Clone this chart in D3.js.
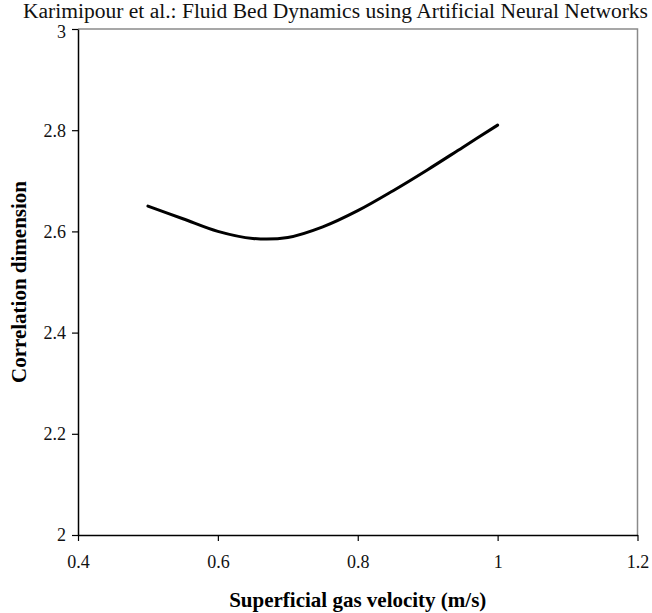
<!DOCTYPE html>
<html>
<head>
<meta charset="utf-8">
<script src="https://cdn.jsdelivr.net/npm/d3@7"></script>
<style>
  html, body { margin: 0; padding: 0; background: #fff; }
  svg { display: block; }
</style>
</head>
<body>
<svg id="chart" width="652" height="613"></svg>
<script>
// ---- data ----
const velocity = [0.50, 0.55, 0.60, 0.65, 0.70, 0.75, 0.80, 0.85, 0.90, 0.95, 1.00];
const corrDim  = [2.650, 2.625, 2.600, 2.586, 2.588, 2.609, 2.641, 2.680, 2.722, 2.766, 2.810];
const xTicks = [0.4, 0.6, 0.8, 1.0, 1.2];
const yTicks = [2, 2.2, 2.4, 2.6, 2.8, 3];
const titleText = "Karimipour et al.: Fluid Bed Dynamics using Artificial Neural Networks";
const xTitle = "Superficial gas velocity (m/s)";
const yTitle = "Correlation dimension";

(function () {
  const svg = d3.select("#chart");
  const mLeft = 78, mRight = 637.5, mTop = 29, mBottom = 535;

  const x = d3.scaleLinear().domain([0.4, 1.2]).range([mLeft, mRight]);
  const y = d3.scaleLinear().domain([2, 3]).range([mBottom, mTop]);

  const serif = "'Liberation Serif', 'Times New Roman', serif";

  // top and right border (gray)
  svg.append("path")
    .attr("d", `M${mLeft},${mTop}H${mRight}V${mBottom}`)
    .attr("fill", "none").attr("stroke", "#8a8a8a").attr("stroke-width", 1.5);

  const fmt = d => String(+d.toFixed(1));

  const xAxis = svg.append("g")
    .attr("transform", `translate(0,${mBottom})`)
    .call(d3.axisBottom(x).tickValues(xTicks).tickSize(6).tickSizeOuter(0).tickFormat(fmt));
  const yAxis = svg.append("g")
    .attr("transform", `translate(${mLeft},0)`)
    .call(d3.axisLeft(y).tickValues(yTicks).tickSize(6).tickSizeOuter(0).tickFormat(fmt));

  [xAxis, yAxis].forEach(g => {
    g.select(".domain").attr("stroke", "#000").attr("stroke-width", 1.5);
    g.selectAll(".tick line").attr("stroke", "#000").attr("stroke-width", 1.2);
    g.selectAll(".tick text")
      .style("font-family", serif)
      .style("font-size", "18px")
      .attr("fill", "#111");
  });
  xAxis.selectAll(".tick text").attr("dy", "0").attr("y", 33);
  yAxis.selectAll(".tick text").attr("x", -12).attr("dy", "0.33em");
  yAxis.selectAll(".tick text").filter(d => d === 3).attr("dy", "0.45em");

  // header
  svg.append("text")
    .attr("x", 23).attr("y", 18)
    .attr("textLength", 625).attr("lengthAdjust", "spacingAndGlyphs")
    .style("font-family", serif)
    .style("font-size", "20px")
    .attr("fill", "#111")
    .text(titleText);

  // curve
  const line = d3.line()
    .x((d, i) => x(velocity[i]))
    .y(d => y(d))
    .curve(d3.curveCatmullRom.alpha(0.5));
  svg.append("path")
    .datum(corrDim)
    .attr("d", line)
    .attr("fill", "none")
    .attr("stroke", "#000")
    .attr("stroke-width", 3)
    .attr("stroke-linecap", "round");

  // axis titles
  svg.append("text")
    .attr("x", (mLeft + mRight) / 2).attr("y", 607)
    .attr("text-anchor", "middle")
    .style("font-family", serif)
    .style("font-size", "21px").style("font-weight", "bold")
    .text(xTitle);

  svg.append("text")
    .attr("transform", `translate(26,${(mTop + mBottom) / 2}) rotate(-90)`)
    .attr("text-anchor", "middle")
    .style("font-family", serif)
    .style("font-size", "21px").style("font-weight", "bold")
    .text(yTitle);
})();
</script>
</body>
</html>
